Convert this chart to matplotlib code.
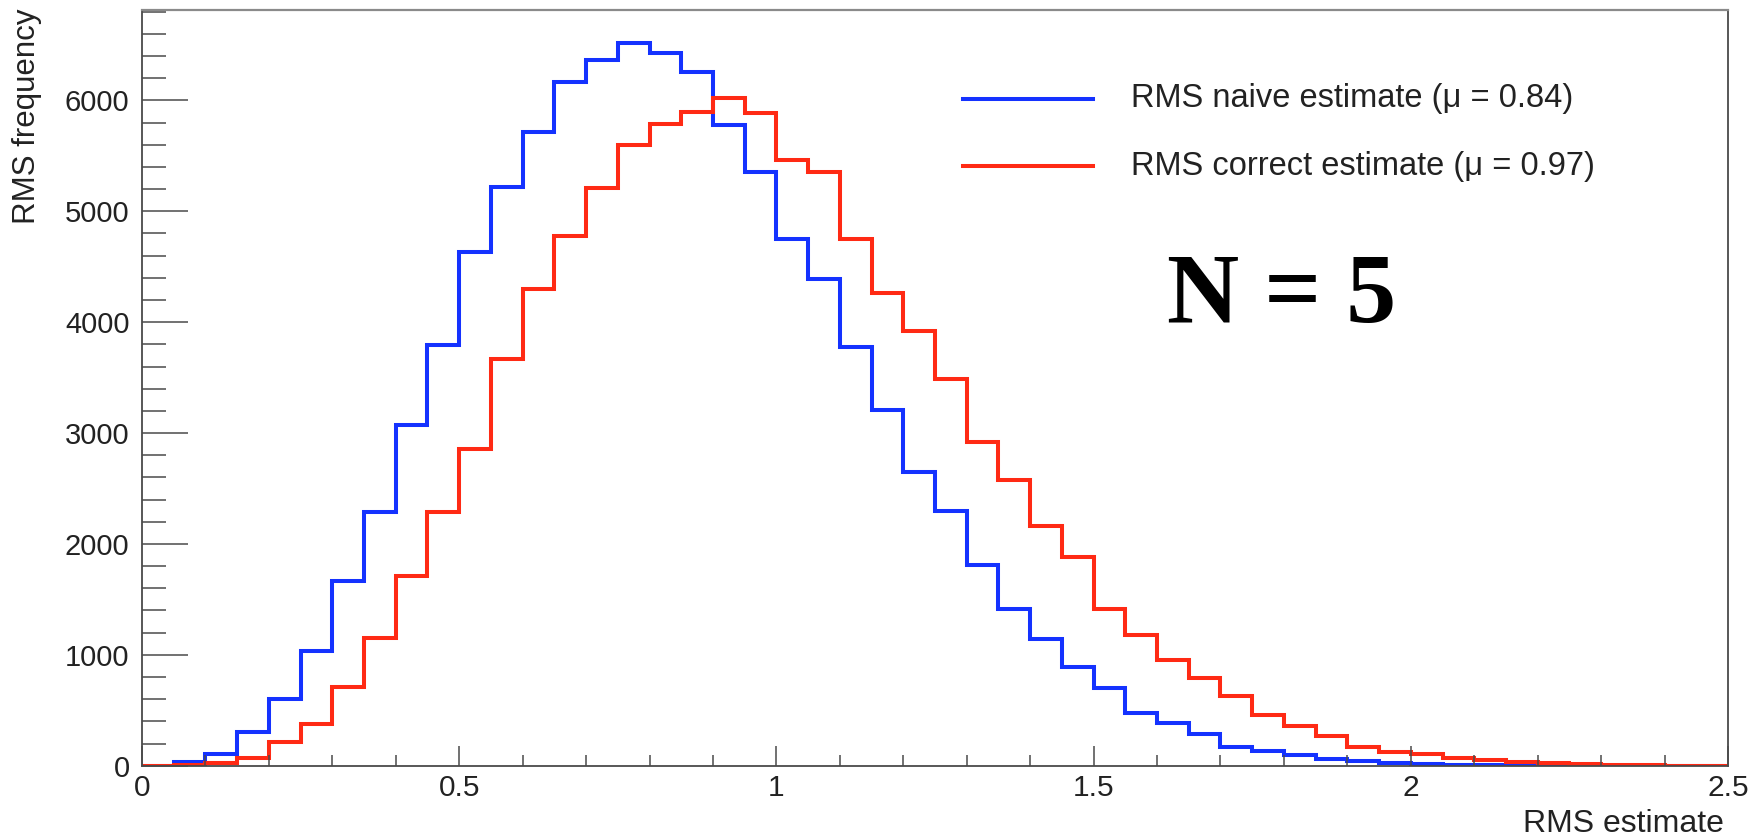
import matplotlib
matplotlib.use("Agg")
import matplotlib.pyplot as plt
import numpy as np
from matplotlib.lines import Line2D
from matplotlib.ticker import MultipleLocator, FixedLocator, FixedFormatter

# ---------------- data ----------------
bin_start = 0.0
bin_stop = 2.5
bin_width = 0.05

naive_counts = [0, 36, 105, 300, 600, 1030, 1670, 2290, 3075, 3792,
                4629, 5221, 5717, 6170, 6364, 6514, 6424, 6259, 5777, 5356,
                4746, 4385, 3777, 3210, 2645, 2296, 1809, 1413, 1139, 893,
                697, 478, 385, 285, 165, 130, 100, 60, 45, 25,
                18, 6, 4, 3, 2, 1, 0, 0, 0, 0]

correct_counts = [0, 8, 27, 66, 210, 375, 706, 1150, 1713, 2290,
                  2852, 3672, 4301, 4775, 5210, 5597, 5786, 5892, 6018, 5883,
                  5462, 5356, 4746, 4265, 3919, 3486, 2922, 2576, 2161, 1885,
                  1413, 1178, 953, 790, 625, 455, 355, 265, 171, 120,
                  105, 73, 51, 33, 20, 12, 4, 2, 1, 0]

naive_label = "RMS naive estimate (μ = 0.84)"
correct_label = "RMS correct estimate (μ = 0.97)"
x_title = "RMS estimate"
y_title = "RMS frequency"
annotation = "N = 5"
x_ticks = [0, 0.5, 1, 1.5, 2, 2.5]
x_tick_labels = ["0", "0.5", "1", "1.5", "2", "2.5"]
y_ticks = [0, 1000, 2000, 3000, 4000, 5000, 6000]
y_max = 6815

# ---------------- style ----------------
plt.rcParams["font.family"] = ["Liberation Sans", "DejaVu Sans"]
W, H = 1760, 836
BLUE = "#1432ff"
RED = "#ff2a14"
AXC = "#4a4a4a"
TXT = "#222222"
LW = 2.9


def fx(px):
    return px / W


def fy(py):
    return 1 - py / H


fig = plt.figure(figsize=(W / 100, H / 100), dpi=100)
fig.patch.set_facecolor("white")
x0, x1, ytop, ybot = 142, 1728, 10, 765.7
ax = fig.add_axes([fx(x0), fy(ybot), (x1 - x0) / W, (ybot - ytop) / H])

n_bins = len(naive_counts)
edges = bin_start + bin_width * np.arange(n_bins + 1)

ax.stairs(naive_counts, edges, color=BLUE, linewidth=LW, baseline=0)
ax.stairs(correct_counts, edges, color=RED, linewidth=LW, baseline=0)

ax.set_xlim(bin_start, bin_stop)
ax.set_ylim(0, y_max)

ax.xaxis.set_major_locator(FixedLocator(x_ticks))
ax.xaxis.set_major_formatter(FixedFormatter(x_tick_labels))
ax.xaxis.set_minor_locator(MultipleLocator(0.1))
ax.yaxis.set_major_locator(FixedLocator(y_ticks))
ax.yaxis.set_minor_locator(MultipleLocator(200))

ax.tick_params(axis="x", which="major", direction="in", length=14.5, width=1.1,
               color=AXC, labelsize=21.5, labelcolor=TXT, pad=6)
ax.tick_params(axis="x", which="minor", direction="in", length=8, width=1.1, color=AXC)
ax.tick_params(axis="y", which="major", direction="in", length=33, width=1.1,
               color=AXC, labelsize=21, labelcolor=TXT, pad=9)
ax.tick_params(axis="y", which="minor", direction="in", length=17, width=1.1, color=AXC)

for side in ["left", "bottom", "right"]:
    ax.spines[side].set_color(AXC)
    ax.spines[side].set_linewidth(1.3)
ax.spines["top"].set_color("#8a8a8a")
ax.spines["top"].set_linewidth(1.6)

# axis titles
fig.text(fx(1724), fy(832), x_title, ha="right", va="baseline",
         fontsize=23, color=TXT)
fig.text(fx(27), fy(9), y_title, ha="center", va="top", rotation=90,
         fontsize=22.5, color=TXT)

# legend (drawn by hand to match the ROOT layout)
for ypix, col, lab in [(99, BLUE, naive_label), (166, RED, correct_label)]:
    fig.add_artist(Line2D([fx(963), fx(1093)], [fy(ypix), fy(ypix)],
                          color=col, linewidth=LW, transform=fig.transFigure))
    fig.text(fx(1131), fy(ypix), lab, ha="left", va="center",
             fontsize=23.5, color=TXT)

# N = 5 annotation
fig.text(fx(1167), fy(322), annotation, ha="left", va="baseline",
         fontsize=72, fontweight="bold", family=["Liberation Serif", "DejaVu Serif"],
         color="black")

fig.savefig("out.png", dpi=100, facecolor="white")
